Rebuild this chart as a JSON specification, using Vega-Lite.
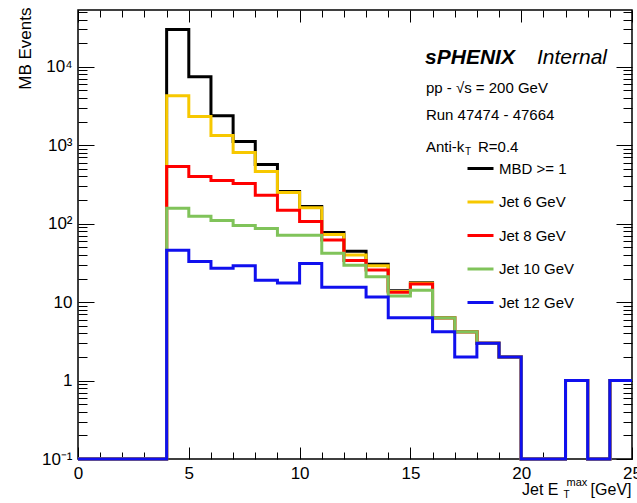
{
  "$schema": "https://vega.github.io/schema/vega-lite/v6.json",
  "width": 554,
  "height": 449,
  "autosize": {"type": "none"},
  "padding": {"left": 78, "top": 10, "right": 5, "bottom": 44},
  "background": "white",
  "config": {
    "view": {"stroke": "#000", "strokeWidth": 1.5},
    "font": "Liberation Sans",
    "axis": {"grid": false, "domain": false, "tickColor": "#000", "labelColor": "#000", "titleColor": "#000", "labelFont": "Liberation Sans", "titleFont": "Liberation Sans", "titleFontWeight": "normal", "tickWidth": 1, "labelFlush": false, "labelOverlap": false},
    "text": {"font": "Liberation Sans", "color": "#000"}
  },
  "data": {
    "values": [
      {"x": 0, "MBD >= 1": 0, "Jet 6 GeV": 0, "Jet 8 GeV": 0, "Jet 10 GeV": 0, "Jet 12 GeV": 0},
      {"x": 1, "MBD >= 1": 0, "Jet 6 GeV": 0, "Jet 8 GeV": 0, "Jet 10 GeV": 0, "Jet 12 GeV": 0},
      {"x": 2, "MBD >= 1": 0, "Jet 6 GeV": 0, "Jet 8 GeV": 0, "Jet 10 GeV": 0, "Jet 12 GeV": 0},
      {"x": 3, "MBD >= 1": 0, "Jet 6 GeV": 0, "Jet 8 GeV": 0, "Jet 10 GeV": 0, "Jet 12 GeV": 0},
      {"x": 4, "MBD >= 1": 30000, "Jet 6 GeV": 4270, "Jet 8 GeV": 535, "Jet 10 GeV": 157, "Jet 12 GeV": 46},
      {"x": 5, "MBD >= 1": 7460, "Jet 6 GeV": 2320, "Jet 8 GeV": 400, "Jet 10 GeV": 124, "Jet 12 GeV": 33},
      {"x": 6, "MBD >= 1": 2380, "Jet 6 GeV": 1330, "Jet 8 GeV": 356, "Jet 10 GeV": 110, "Jet 12 GeV": 27},
      {"x": 7, "MBD >= 1": 1115, "Jet 6 GeV": 807, "Jet 8 GeV": 326, "Jet 10 GeV": 95, "Jet 12 GeV": 29},
      {"x": 8, "MBD >= 1": 569, "Jet 6 GeV": 463, "Jet 8 GeV": 230, "Jet 10 GeV": 87, "Jet 12 GeV": 19},
      {"x": 9, "MBD >= 1": 257, "Jet 6 GeV": 250, "Jet 8 GeV": 148, "Jet 10 GeV": 71, "Jet 12 GeV": 17.5},
      {"x": 10, "MBD >= 1": 166, "Jet 6 GeV": 160, "Jet 8 GeV": 107, "Jet 10 GeV": 71, "Jet 12 GeV": 31},
      {"x": 11, "MBD >= 1": 77, "Jet 6 GeV": 73, "Jet 8 GeV": 62, "Jet 10 GeV": 42, "Jet 12 GeV": 15.5},
      {"x": 12, "MBD >= 1": 44.6, "Jet 6 GeV": 40, "Jet 8 GeV": 34, "Jet 10 GeV": 29.5, "Jet 12 GeV": 15.5},
      {"x": 13, "MBD >= 1": 30.5, "Jet 6 GeV": 29, "Jet 8 GeV": 25.6, "Jet 10 GeV": 21, "Jet 12 GeV": 11.6},
      {"x": 14, "MBD >= 1": 14, "Jet 6 GeV": 13.7, "Jet 8 GeV": 13.4, "Jet 10 GeV": 12, "Jet 12 GeV": 6.3},
      {"x": 15, "MBD >= 1": 17.6, "Jet 6 GeV": 17.4, "Jet 8 GeV": 17, "Jet 10 GeV": 14.2, "Jet 12 GeV": 6.3},
      {"x": 16, "MBD >= 1": 6.3, "Jet 6 GeV": 6.3, "Jet 8 GeV": 6.3, "Jet 10 GeV": 6.3, "Jet 12 GeV": 4.2},
      {"x": 17, "MBD >= 1": 4.2, "Jet 6 GeV": 4.2, "Jet 8 GeV": 4.2, "Jet 10 GeV": 4.2, "Jet 12 GeV": 2},
      {"x": 18, "MBD >= 1": 3, "Jet 6 GeV": 3, "Jet 8 GeV": 3, "Jet 10 GeV": 3, "Jet 12 GeV": 3},
      {"x": 19, "MBD >= 1": 2, "Jet 6 GeV": 2, "Jet 8 GeV": 2, "Jet 10 GeV": 2, "Jet 12 GeV": 2},
      {"x": 20, "MBD >= 1": 0, "Jet 6 GeV": 0, "Jet 8 GeV": 0, "Jet 10 GeV": 0, "Jet 12 GeV": 0},
      {"x": 21, "MBD >= 1": 0, "Jet 6 GeV": 0, "Jet 8 GeV": 0, "Jet 10 GeV": 0, "Jet 12 GeV": 0},
      {"x": 22, "MBD >= 1": 1, "Jet 6 GeV": 1, "Jet 8 GeV": 1, "Jet 10 GeV": 1, "Jet 12 GeV": 1},
      {"x": 23, "MBD >= 1": 0, "Jet 6 GeV": 0, "Jet 8 GeV": 0, "Jet 10 GeV": 0, "Jet 12 GeV": 0},
      {"x": 24, "MBD >= 1": 1, "Jet 6 GeV": 1, "Jet 8 GeV": 1, "Jet 10 GeV": 1, "Jet 12 GeV": 1},
      {"x": 25, "MBD >= 1": 1, "Jet 6 GeV": 1, "Jet 8 GeV": 1, "Jet 10 GeV": 1, "Jet 12 GeV": 1}
    ]
  },
  "layer": [
    {
      "transform": [{"fold": ["MBD >= 1", "Jet 6 GeV", "Jet 8 GeV", "Jet 10 GeV", "Jet 12 GeV"], "as": ["series", "events"]}],
      "mark": {"type": "line", "interpolate": "step-after", "strokeWidth": 3, "clip": false},
      "encoding": {
        "x": {
          "field": "x", "type": "quantitative",
          "scale": {"domain": [0, 25], "nice": false, "zero": false},
          "axis": {"orient": "bottom", "values": [0, 5, 10, 15, 20, 25], "tickSize": -12, "labelPadding": 18, "labelFontSize": 17,
                   "title": "Jet E", "titleX": 480, "titleY": 35, "titleAlign": "right", "titleBaseline": "alphabetic", "titleFontSize": 16}
        },
        "y": {
          "field": "events", "type": "quantitative",
          "scale": {"type": "log", "domain": [0.1, 53000], "nice": false, "clamp": true},
          "axis": {"orient": "left", "values": [0.1, 1, 10, 100, 1000, 10000], "tickSize": -16, "labelPadding": 22, "labelFontSize": 17,
                   "labelExpr": "datum.value < 0.5 ? '10⁻¹' : datum.value < 5 ? '1' : datum.value < 50 ? '10' : datum.value < 500 ? '10²' : datum.value < 5000 ? '10³' : '10⁴'",
                   "title": "MB Events", "titleX": -53, "titleY": -3, "titleAlign": "right", "titleAngle": 270, "titleBaseline": "middle", "titleFontSize": 17}
        },
        "color": {
          "field": "series", "type": "nominal",
          "scale": {"domain": ["MBD >= 1", "Jet 6 GeV", "Jet 8 GeV", "Jet 10 GeV", "Jet 12 GeV"], "range": ["#000000", "#F7C800", "#FF0000", "#80C35A", "#1010EE"]},
          "legend": {"title": null, "orient": "none", "legendX": 388, "legendY": 144, "symbolType": "stroke", "symbolSize": 676, "symbolStrokeWidth": 3,
                     "labelFontSize": 15, "labelFont": "Liberation Sans", "labelColor": "#000", "rowPadding": 10.5, "labelOffset": 4, "padding": 0}
        }
      }
    },
    {
      "transform": [{"fold": ["MBD >= 1", "Jet 6 GeV", "Jet 8 GeV", "Jet 10 GeV", "Jet 12 GeV"], "as": ["series", "events"]}],
      "mark": {"type": "point", "opacity": 0},
      "encoding": {
        "x": {"field": "x", "type": "quantitative",
              "axis": {"orient": "bottom", "values": [1, 2, 3, 4, 6, 7, 8, 9, 11, 12, 13, 14, 16, 17, 18, 19, 21, 22, 23, 24], "tickSize": -7, "labels": false,
                       "title": "[GeV]", "titleX": 553, "titleY": 35, "titleAlign": "right", "titleBaseline": "alphabetic", "titleFontSize": 16}},
        "y": {"field": "events", "type": "quantitative",
              "axis": {"orient": "left", "values": [0.2, 0.3, 0.4, 0.5, 0.6, 0.7, 0.8, 0.9, 2, 3, 4, 5, 6, 7, 8, 9, 20, 30, 40, 50, 60, 70, 80, 90, 200, 300, 400, 500, 600, 700, 800, 900, 2000, 3000, 4000, 5000, 6000, 7000, 8000, 9000, 20000, 30000, 40000, 50000], "tickSize": -9, "labels": false, "title": null}}
      }
    },
    {
      "transform": [{"fold": ["MBD >= 1", "Jet 6 GeV", "Jet 8 GeV", "Jet 10 GeV", "Jet 12 GeV"], "as": ["series", "events"]}],
      "mark": {"type": "point", "opacity": 0},
      "encoding": {
        "x": {"field": "x", "type": "quantitative",
              "axis": {"orient": "top", "values": [0, 5, 10, 15, 20, 25], "tickSize": -12, "labels": false,
                       "title": "max", "titleX": 488, "titleY": 475, "titleAlign": "left", "titleBaseline": "alphabetic", "titleFontSize": 11}},
        "y": {"field": "events", "type": "quantitative",
              "axis": {"orient": "right", "values": [0.1, 1, 10, 100, 1000, 10000], "tickSize": -16, "labels": false, "title": null}}
      }
    },
    {
      "transform": [{"fold": ["MBD >= 1", "Jet 6 GeV", "Jet 8 GeV", "Jet 10 GeV", "Jet 12 GeV"], "as": ["series", "events"]}],
      "mark": {"type": "point", "opacity": 0},
      "encoding": {
        "x": {"field": "x", "type": "quantitative",
              "axis": {"orient": "top", "values": [1, 2, 3, 4, 6, 7, 8, 9, 11, 12, 13, 14, 16, 17, 18, 19, 21, 22, 23, 24], "tickSize": -7, "labels": false,
                       "title": "T", "titleX": 485, "titleY": 487, "titleAlign": "left", "titleBaseline": "alphabetic", "titleFontSize": 10}},
        "y": {"field": "events", "type": "quantitative",
              "axis": {"orient": "right", "values": [0.2, 0.3, 0.4, 0.5, 0.6, 0.7, 0.8, 0.9, 2, 3, 4, 5, 6, 7, 8, 9, 20, 30, 40, 50, 60, 70, 80, 90, 200, 300, 400, 500, 600, 700, 800, 900, 2000, 3000, 4000, 5000, 6000, 7000, 8000, 9000, 20000, 30000, 40000, 50000], "tickSize": -9, "labels": false, "title": null}}
      }
    },
    {
      "data": {"values": [{}]},
      "mark": {"type": "text", "text": "sPHENIX", "fontSize": 21, "fontWeight": "bold", "fontStyle": "italic", "align": "left", "baseline": "middle"},
      "encoding": {"x": {"datum": 15.66, "axis": null}, "y": {"datum": 12950, "axis": null}}
    },
    {
      "data": {"values": [{}]},
      "mark": {"type": "text", "text": "Internal", "fontSize": 21, "fontStyle": "italic", "align": "left", "baseline": "middle"},
      "encoding": {"x": {"datum": 20.71, "axis": null}, "y": {"datum": 12950, "axis": null}}
    },
    {
      "data": {"values": [{}]},
      "mark": {"type": "text", "text": "pp - √s = 200 GeV", "fontSize": 15, "align": "left", "baseline": "middle"},
      "encoding": {"x": {"datum": 15.7, "axis": null}, "y": {"datum": 5370, "axis": null}}
    },
    {
      "data": {"values": [{}]},
      "mark": {"type": "text", "text": "Run 47474 - 47664", "fontSize": 15, "align": "left", "baseline": "middle"},
      "encoding": {"x": {"datum": 15.7, "axis": null}, "y": {"datum": 2430, "axis": null}}
    },
    {
      "data": {"values": [{}]},
      "mark": {"type": "text", "text": "Anti-k", "fontSize": 15, "align": "left", "baseline": "middle"},
      "encoding": {"x": {"datum": 15.7, "axis": null}, "y": {"datum": 949, "axis": null}}
    },
    {
      "data": {"values": [{}]},
      "mark": {"type": "text", "text": "T", "fontSize": 10, "align": "left", "baseline": "middle"},
      "encoding": {"x": {"datum": 17.46, "axis": null}, "y": {"datum": 820, "axis": null}}
    },
    {
      "data": {"values": [{}]},
      "mark": {"type": "text", "text": "R=0.4", "fontSize": 15, "align": "left", "baseline": "middle"},
      "encoding": {"x": {"datum": 18.05, "axis": null}, "y": {"datum": 949, "axis": null}}
    }
  ],
  "resolve": {"axis": {"x": "independent", "y": "independent"}}
}
